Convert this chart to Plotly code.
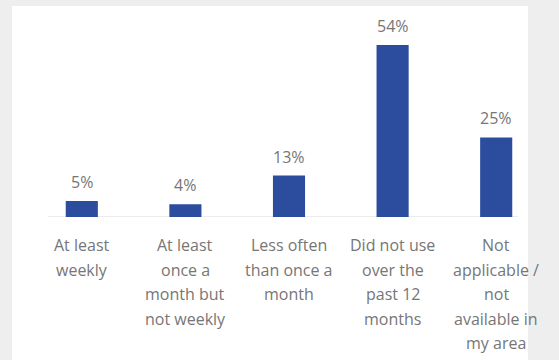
import plotly.graph_objects as go

# Frequency of use, share of respondents (%)
categories = [
    "At least weekly",
    "At least once a month but not weekly",
    "Less often than once a month",
    "Did not use over the past 12 months",
    "Not applicable / not available in my area",
]
# how each category name is wrapped under its bar
category_lines = [
    ["At least", "weekly"],
    ["At least", "once a", "month but", "not weekly"],
    ["Less often", "than once a", "month"],
    ["Did not use", "over the", "past 12", "months"],
    ["Not", "applicable /", "not", "available in", "my area"],
]
shares = [5, 4, 13, 54, 25]

W, H = 559, 360
bar_color = "#2c4d9e"
text_color = "#767676"
font_family = "'Open Sans', sans-serif"
line_step = 24.5  # px between wrapped label lines

fig = go.Figure(
    go.Bar(
        x=categories,
        y=shares,
        marker=dict(color=bar_color, line=dict(width=0)),
        hoverinfo="skip",
    )
)

# value labels above each bar
for cat, val in zip(categories, shares):
    fig.add_annotation(
        x=cat, y=val, text=f"{val}%", showarrow=False,
        yanchor="bottom", yshift=6,
        font=dict(size=16, color=text_color, family=font_family),
    )

# wrapped category names under the axis
for cat, lines in zip(categories, category_lines):
    for i, line in enumerate(lines):
        fig.add_annotation(
            x=cat, y=0, text=line, showarrow=False,
            yanchor="middle", yshift=-(28 + i * line_step),
            font=dict(size=16, color=text_color, family=font_family),
        )

# white chart card on a light grey page
fig.add_shape(
    type="rect", xref="paper", yref="paper", layer="below",
    x0=-18 / 517, x1=497 / 517, y0=-143 / 191, y1=1 + 20 / 191,
    fillcolor="white", line=dict(width=0),
)
# category axis baseline
fig.add_shape(
    type="line", xref="paper", yref="y", layer="below",
    x0=18 / 517, x1=487 / 517, y0=0, y1=0,
    line=dict(color="#d9d9d9", width=1),
)

fig.update_layout(
    width=W, height=H,
    margin=dict(l=30, r=11, t=26, b=143),
    paper_bgcolor="#eeeeee",
    plot_bgcolor="rgba(0,0,0,0)",
    bargap=0.69,
    showlegend=False,
    font=dict(family=font_family, size=16, color=text_color),
    xaxis=dict(
        showline=False, showgrid=False, ticks="", showticklabels=False,
    ),
    yaxis=dict(
        range=[0, 60], visible=False, showgrid=False, zeroline=False,
    ),
)

fig.write_html("out.html")
